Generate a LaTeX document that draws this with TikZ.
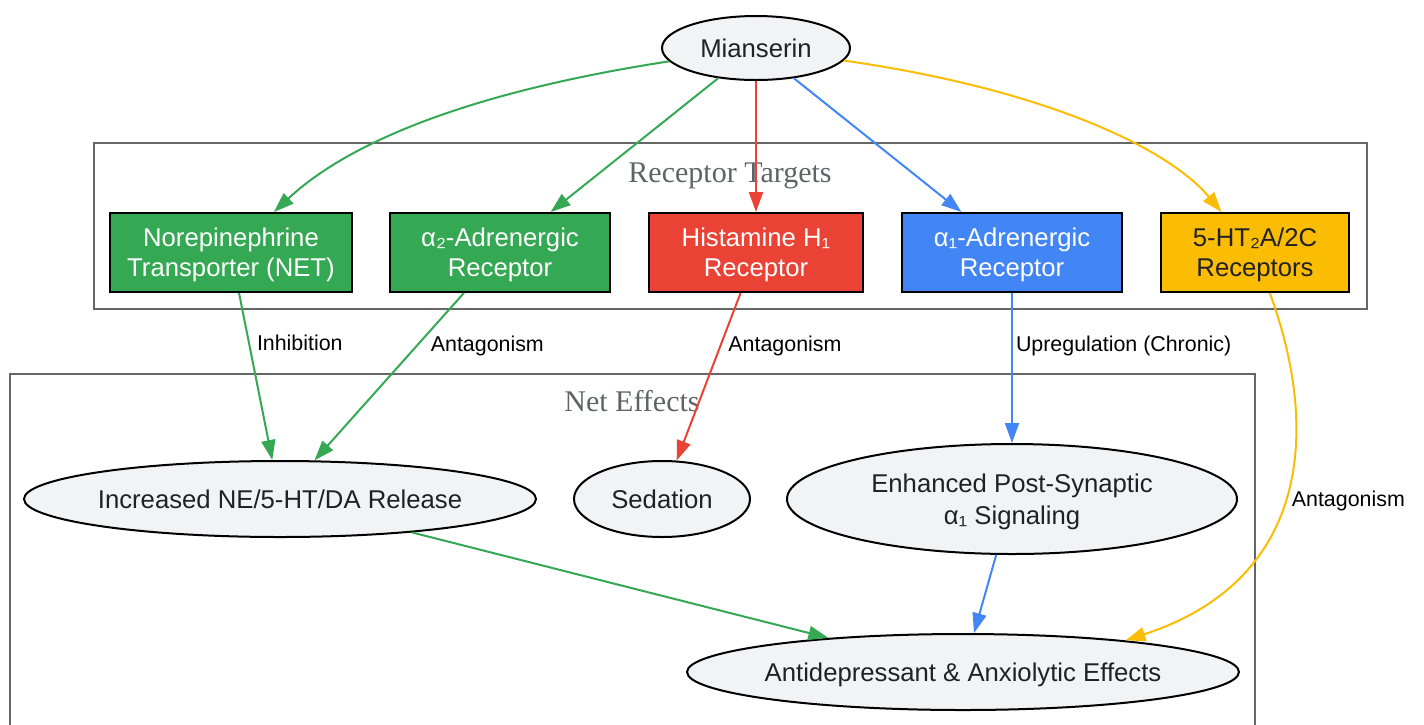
\documentclass[tikz,border=0pt]{standalone}
\usepackage{fontspec}
\setmainfont{Liberation Sans}
\newfontfamily\clusterfont{Liberation Serif}
\usetikzlibrary{shapes.geometric,arrows.meta}

\definecolor{ink}{HTML}{202124}
\definecolor{nodegray}{HTML}{F1F3F4}
\definecolor{groupgray}{HTML}{666666}
\definecolor{labelgray}{HTML}{5F6368}
\definecolor{gGreen}{HTML}{34A853}
\definecolor{gRed}{HTML}{EA4335}
\definecolor{gBlue}{HTML}{4285F4}
\definecolor{gYellow}{HTML}{FBBC04}

\begin{document}
\begin{tikzpicture}[
    x=1pt, y=-1pt,
    every node/.style={font=\fontsize{25.7}{30}\selectfont, text=ink},
    drug/.style={draw, ellipse, line width=2pt, fill=nodegray, minimum width=188pt, minimum height=64pt, inner sep=0pt},
    target/.style={draw, rectangle, line width=2pt, minimum height=79pt, align=center, inner sep=0pt, text depth=0pt},
    effect/.style={draw, ellipse, line width=2pt, fill=nodegray, align=center, inner xsep=-4pt, inner ysep=0pt, text depth=0pt, font=\fontsize{25.7}{32}\selectfont},
    group/.style={draw=groupgray, line width=2pt},
    grouplabel/.style={font=\clusterfont\fontsize{30}{34}\selectfont, text=labelgray},
    lbl/.style={font=\fontsize{21.4}{25}\selectfont, text=black, anchor=west, inner sep=3pt},
    arrow/.style={-{Triangle[length=20pt,width=14pt]}, line width=2pt}
]
    \useasboundingbox (0,0) rectangle (1424,724);

    % clusters
    \draw[group] (94,143) rectangle (1367,309);
    \node[grouplabel] (targetslabel) at (730,176) {Receptor Targets};
    \draw[group] (10,374) rectangle (1255,740);
    \node[grouplabel] (effectslabel) at (632,401) {Net Effects};

    \node[drug] (mianserin) at (756,48) {Mianserin};

    % receptor targets
    \node[target, fill=gGreen, text=white, minimum width=242pt] (net) at (231,252.5) {Norepinephrine\\Transporter (NET)};
    \node[target, fill=gGreen, text=white, minimum width=220pt] (alphatwo) at (500,252.5) {α₂-Adrenergic\\Receptor};
    \node[target, fill=gRed, text=white, minimum width=214pt] (histamine) at (756,252.5) {Histamine H₁\\Receptor};
    \node[target, fill=gBlue, text=white, minimum width=220pt] (alphaone) at (1012,252.5) {α₁-Adrenergic\\Receptor};
    \node[target, fill=gYellow, minimum width=188pt] (serotonin) at (1255,252.5) {5-HT₂A/2C\\Receptors};

    % net effects
    \node[effect, minimum width=512pt, minimum height=76pt] (release) at (280,499) {Increased NE/5-HT/DA Release};
    \node[effect, minimum width=176pt, minimum height=76pt] (sedation) at (662,499) {Sedation};
    \node[effect, minimum width=450pt, minimum height=110pt] (signaling) at (1012,499) {Enhanced Post-Synaptic\\α₁ Signaling};
    \node[effect, minimum width=552pt, minimum height=76pt] (outcome) at (963,672) {Antidepressant \& Anxiolytic Effects};

    % edges
    \draw[arrow, gGreen] (mianserin) .. controls (450,95) and (340,150) .. (net);
    \draw[arrow, gGreen] (mianserin) -- (alphatwo);
    \draw[arrow, gRed] (mianserin) -- (histamine);
    \draw[arrow, gBlue] (mianserin) -- (alphaone);
    \draw[arrow, gYellow] (mianserin) .. controls (1050,90) and (1170,150) .. (serotonin);

    \draw[arrow, gGreen] (net) -- node[lbl, pos=0.3, xshift=4pt] {Inhibition} (release);
    \draw[arrow, gGreen] (alphatwo) -- node[lbl, pos=0.315, xshift=10pt] {Antagonism} (release);
    \draw[arrow, gRed] (histamine) -- node[lbl, pos=0.315, xshift=4pt] {Antagonism} (sedation);
    \draw[arrow, gBlue] (alphaone) -- node[lbl, pos=0.353] {Upregulation (Chronic)} (signaling);
    \draw[arrow, gYellow] (serotonin) .. controls (1320,430) and (1310,580) .. node[lbl, pos=0.515, xshift=4pt] {Antagonism} (outcome.11);

    \draw[arrow, gGreen] (release) -- (outcome);
    \draw[arrow, gBlue] (signaling) -- (outcome);
\end{tikzpicture}
\end{document}
